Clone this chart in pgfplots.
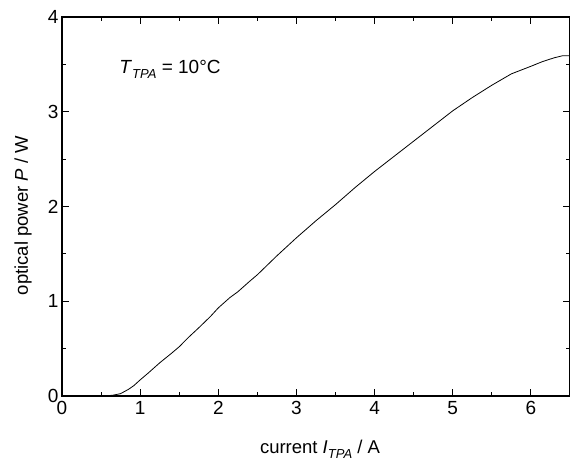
\documentclass[border=0pt]{standalone}
\usepackage{fontspec}
\setmainfont{Liberation Sans}
\usepackage{pgfplots}
\pgfplotsset{compat=1.18}

\newcommand{\sub}[1]{\raisebox{-5pt}{\fontsize{13}{13}\selectfont\itshape #1}}

\begin{document}
\begin{tikzpicture}
\useasboundingbox (-62pt,-68pt) rectangle (508pt,396pt);
\begin{axis}[
  at={(0pt,0pt)}, anchor=south west,
  width=508pt, height=379pt, scale only axis,
  xmin=0, xmax=6.5, ymin=0, ymax=4,
  xtick={0,1,...,6}, ytick={0,1,...,4},
  minor tick num=1,
  tick align=inside,
  major tick length=7pt, minor tick length=4pt,
  axis line style={line width=1.6pt},
  every tick/.style={black, line width=1pt},
  /pgf/number format/assume math mode=true,
  tick label style={font=\fontsize{19}{22}\selectfont},
  xticklabel style={yshift=-2pt},
  label style={font=\fontsize{18.5}{22}\selectfont},
  xlabel={current \textit{I}\sub{TPA} / A},
  ylabel={optical power \textit{P} / W},
  xlabel style={at={(axis description cs:0.5,0)}, anchor=base, yshift=-57pt, xshift=4pt},
  ylabel style={at={(axis description cs:0,0.5)}, anchor=base, yshift=34pt, xshift=-9pt},
]
\addplot[black, line width=0.8pt] coordinates {
  (0,0) (0.45,0) (0.55,0.002) (0.65,0.008) (0.75,0.025) (0.85,0.07)
  (0.92,0.11) (1.0,0.17) (1.1,0.24) (1.25,0.35) (1.4,0.45) (1.5,0.52)
  (1.62,0.62) (1.75,0.72) (1.9,0.84) (2.0,0.93) (2.15,1.04) (2.25,1.10)
  (2.4,1.21) (2.5,1.28) (2.75,1.48) (3.0,1.67) (3.25,1.85) (3.5,2.02)
  (3.75,2.20) (4.0,2.37) (4.25,2.53) (4.5,2.69) (4.75,2.85) (5.0,3.01)
  (5.25,3.15) (5.5,3.28) (5.75,3.40) (6.0,3.48) (6.15,3.53) (6.3,3.57)
  (6.4,3.59) (6.5,3.59)
};
\node[anchor=base west, font=\fontsize{19}{22}\selectfont]
  at (axis cs:0.69,3.40) {\textit{T}\sub{TPA} = 10°C};
\end{axis}
\end{tikzpicture}
\end{document}
